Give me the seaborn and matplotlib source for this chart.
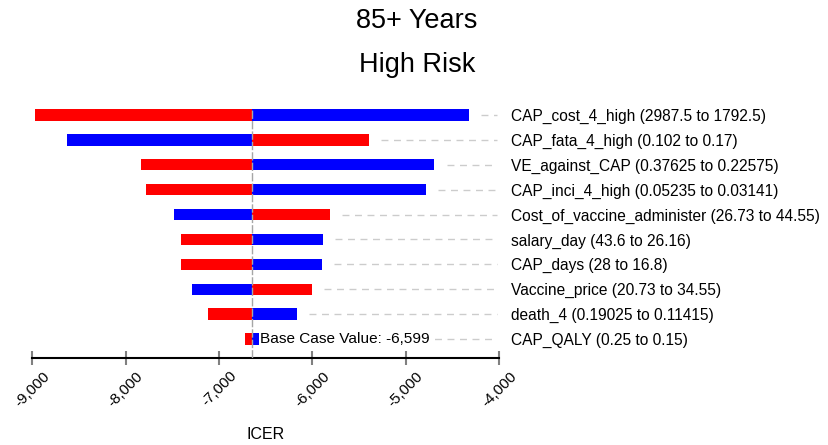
import matplotlib
matplotlib.use("Agg")
import matplotlib.pyplot as plt
import seaborn as sns
import pandas as pd
from matplotlib.ticker import FuncFormatter

# tornado data, ICER at each end of the parameter range
labels = [
    "CAP_cost_4_high (2987.5 to 1792.5)",
    "CAP_fata_4_high (0.102 to 0.17)",
    "VE_against_CAP (0.37625 to 0.22575)",
    "CAP_inci_4_high (0.05235 to 0.03141)",
    "Cost_of_vaccine_administer (26.73 to 44.55)",
    "salary_day (43.6 to 26.16)",
    "CAP_days (28 to 16.8)",
    "Vaccine_price (20.73 to 34.55)",
    "death_4 (0.19025 to 0.11415)",
    "CAP_QALY (0.25 to 0.15)",
]
red_end = [-8972, -5395, -7840, -7786, -5812, -7412, -7412, -6005, -7113, -6727]
blue_end = [-4321, -8629, -4692, -4782, -7486, -5887, -5901, -7294, -6163, -6567]
base_case = -6599
base_line = -6651  # where the centre line sits in the picture
xticks = [-9000, -8000, -7000, -6000, -5000, -4000]

df = pd.DataFrame({"label": labels,
                   "red": [v - base_line for v in red_end],
                   "blue": [v - base_line for v in blue_end]})

sns.set_style("white")
plt.rcParams["font.family"] = ["Liberation Sans", "DejaVu Sans"]
plt.rcParams["text.color"] = "black"
plt.rcParams["xtick.labelcolor"] = "black"
plt.rcParams["ytick.labelcolor"] = "black"
plt.rcParams["axes.labelcolor"] = "black"

fig = plt.figure(figsize=(8.29, 4.45), dpi=100)
ax = fig.add_axes([0.039, 0.196, 0.563, 0.575])

sns.barplot(data=df, x="red", y="label", orient="h", color="#ff0000",
            saturation=1, width=0.46, linewidth=0, left=base_line,
            errorbar=None, ax=ax)
sns.barplot(data=df, x="blue", y="label", orient="h", color="#0000ff",
            saturation=1, width=0.46, linewidth=0, left=base_line,
            errorbar=None, ax=ax)

# dashed leader lines towards the labels
for i in range(len(labels)):
    start = max(red_end[i], blue_end[i]) + 130
    ax.plot([start, -4020], [i, i], color="#cccccc", lw=1,
            ls=(0, (5, 4)), zorder=0)

ax.axvline(base_line, ymin=0, ymax=0.97, color="#a6a6a6", lw=1,
           ls=(0, (6, 1.5)), zorder=3)

ax.text(base_line + 90, len(labels) - 1, f"Base Case Value: {base_case:,}",
        va="center", ha="left", fontsize=11.1, color="black", zorder=5,
        bbox=dict(facecolor="white", edgecolor="none", pad=1))

ax.set_xlim(-9000, -4000)
ax.set_ylim(9.75, -0.52)
ax.set_xticks(xticks)
ax.xaxis.set_major_formatter(FuncFormatter(lambda v, p: f"{v:,.0f}"))
plt.setp(ax.get_xticklabels(), rotation=45, ha="center", fontsize=11)

ax.yaxis.tick_right()
ax.tick_params(axis="y", length=0, pad=8.5, labelsize=11.2)
ax.tick_params(axis="x", bottom=True, direction="inout", length=10, width=1.5,
               color="#808080", pad=3)
ax.set_ylabel("")
ax.set_xlabel("ICER", fontsize=11.5)
ax.xaxis.set_label_coords(0.5, -0.27)

for s in ["top", "left", "right"]:
    ax.spines[s].set_visible(False)
ax.spines["bottom"].set_color("black")
ax.spines["bottom"].set_linewidth(1.5)

fig.text(0.503, 0.952, "85+ Years", ha="center", va="center", fontsize=19.5)
fig.text(0.503, 0.855, "High Risk", ha="center", va="center", fontsize=19.5)

plt.savefig("out.png", dpi=100)
plt.close()
